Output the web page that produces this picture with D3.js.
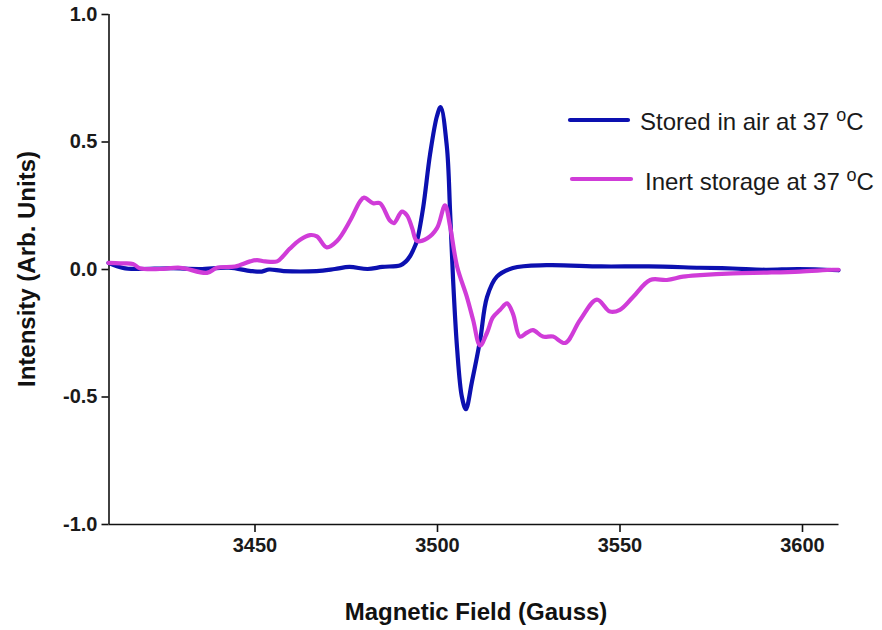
<!DOCTYPE html>
<html>
<head>
<meta charset="utf-8">
<script src="https://cdn.jsdelivr.net/npm/d3@7"></script>
<style>
  body { margin: 0; background: #fff; }
  svg { display: block; font-family: Arial, "Liberation Sans", sans-serif; }
</style>
</head>
<body>
<svg id="chart" width="882" height="630"></svg>
<script>
// EPR spectra, field in gauss vs. intensity (arb. units)
var airPoints = [
  [3410, 0.024], [3414, 0.004], [3418, 0], [3427, 0.003], [3435, 0],
  [3443, 0.005], [3449, -0.008], [3452, -0.01], [3454, -0.002], [3458, -0.008],
  [3467, -0.008], [3472, 0], [3476, 0.008], [3481, 0], [3485, 0.008],
  [3490, 0.015], [3491.5, 0.03], [3492.6, 0.05], [3493.5, 0.075], [3494.5, 0.11],
  [3496.2, 0.24], [3498.1, 0.45], [3500, 0.6], [3501, 0.635], [3502.7, 0.48],
  [3503.6, 0.22], [3504.4, -0.04], [3505.5, -0.31], [3506.8, -0.5], [3507.9, -0.55],
  [3509.6, -0.44], [3511.8, -0.28], [3513.7, -0.11], [3516.4, -0.03], [3520.8, 0.004],
  [3530, 0.015], [3545, 0.01], [3558, 0.01], [3572, 0.005], [3581, 0.002],
  [3590, -0.003], [3599, 0], [3610, -0.005]
];

var inertPoints = [
  [3410, 0.024], [3413.2, 0.022], [3416.7, 0.02], [3418.6, 0.003], [3424.1, 0],
  [3429.6, 0.005], [3437, -0.015], [3439.7, 0.005], [3444.7, 0.01], [3448.8, 0.03],
  [3450.7, 0.035], [3452.9, 0.03], [3456.2, 0.03], [3457.8, 0.05], [3459.7, 0.08],
  [3462.5, 0.115], [3465.2, 0.133], [3467.1, 0.128], [3469.8, 0.085], [3472.6, 0.11],
  [3476.2, 0.19], [3478.9, 0.265], [3480, 0.28], [3482.5, 0.258], [3484.4, 0.258],
  [3487.1, 0.19], [3488.2, 0.18], [3490.4, 0.225], [3491.8, 0.21], [3493.2, 0.16],
  [3494.5, 0.11], [3497.3, 0.12], [3500, 0.16], [3502.2, 0.25], [3503.6, 0.166],
  [3505.5, 0.01], [3508.2, -0.11], [3509.9, -0.2], [3511.8, -0.3], [3513.7, -0.25],
  [3515.3, -0.19], [3517.3, -0.16], [3519.2, -0.135], [3520.8, -0.175], [3522.7, -0.265],
  [3524.6, -0.25], [3526.3, -0.24], [3529, -0.265], [3531.8, -0.265], [3535.1, -0.29],
  [3539.2, -0.2], [3543.8, -0.12], [3547.4, -0.167], [3550.1, -0.16], [3553.7, -0.11],
  [3558.4, -0.043], [3563, -0.043], [3567.4, -0.03], [3572.1, -0.024], [3581.1, -0.017],
  [3590.4, -0.014], [3599.4, -0.01], [3608.4, -0.003], [3610, -0.003]
];

var xTicks = [3450, 3500, 3550, 3600];
var yTicks = [-1.0, -0.5, 0.0, 0.5, 1.0];

var seriesNames = ['Stored in air at 37 ', 'Inert storage at 37 '];
var seriesColors = ['#0c10b0', '#d03cd8'];

var svg = d3.select('#chart');

var x = d3.scaleLinear().domain([3410, 3610]).range([108.5, 838.5]);
var y = d3.scaleLinear().domain([-1, 1]).range([524, 14]);

var line = d3.line()
    .x(function(d) { return x(d[0]); })
    .y(function(d) { return y(d[1]); })
    .curve(d3.curveCatmullRom.alpha(0.5));

// axes
var xAxis = svg.append('g')
    .attr('transform', 'translate(0,524)')
    .call(d3.axisBottom(x).tickValues(xTicks).tickSize(8).tickPadding(6).tickFormat(d3.format('d')));

var yAxis = svg.append('g')
    .attr('transform', 'translate(108.5,0)')
    .call(d3.axisLeft(y).tickValues(yTicks).tickSize(7).tickPadding(4)
      .tickFormat(function(d) { return d.toFixed(1); }));

[xAxis, yAxis].forEach(function(a) {
  a.select('.domain').attr('stroke', '#111').attr('stroke-width', 1.6);
  a.selectAll('.tick line').attr('stroke', '#111').attr('stroke-width', 1.6);
  a.selectAll('.tick text')
      .attr('fill', '#1a1a1a')
      .style('font-size', '20px')
      .style('font-weight', 'bold')
      .style('font-family', 'Arial, "Liberation Sans", sans-serif');
});
yAxis.select('.domain').attr('d', 'M0.5,14V524');
xAxis.select('.domain').attr('d', 'M108.5,0.5H838.5');

// axis titles
svg.append('text')
    .attr('x', 476)
    .attr('y', 620)
    .attr('text-anchor', 'middle')
    .style('font-size', '24px')
    .style('font-weight', 'bold')
    .attr('fill', '#111')
    .text('Magnetic Field (Gauss)');

svg.append('text')
    .attr('transform', 'translate(35,269) rotate(-90)')
    .attr('text-anchor', 'middle')
    .style('font-size', '24px')
    .style('font-weight', 'bold')
    .attr('fill', '#111')
    .text('Intensity (Arb. Units)');

// curves
[airPoints, inertPoints].forEach(function(pts, i) {
  svg.append('path')
      .datum(pts)
      .attr('fill', 'none')
      .attr('stroke', seriesColors[i])
      .attr('stroke-width', 4.2)
      .attr('stroke-linejoin', 'round')
      .attr('stroke-linecap', 'round')
      .attr('d', line);
});

// legend
var legendRows = [
  {lx1: 570, lx2: 628, ly: 120, tx: 640, ty: 130},
  {lx1: 572, lx2: 631, ly: 179, tx: 645, ty: 190}
];

legendRows.forEach(function(r, i) {
  var g = svg.append('g');
  g.append('line')
      .attr('x1', r.lx1).attr('x2', r.lx2)
      .attr('y1', r.ly).attr('y2', r.ly)
      .attr('stroke', seriesColors[i])
      .attr('stroke-width', 4.2)
      .attr('stroke-linecap', 'round');
  var t = g.append('text')
      .attr('x', r.tx)
      .attr('y', r.ty)
      .style('font-size', '24px')
      .attr('fill', '#1a1a1a')
      .text(seriesNames[i]);
  t.append('tspan')
      .attr('dy', -9)
      .style('font-size', '18px')
      .text('o');
  t.append('tspan')
      .attr('dy', 9)
      .text('C');
});
</script>
</body>
</html>
